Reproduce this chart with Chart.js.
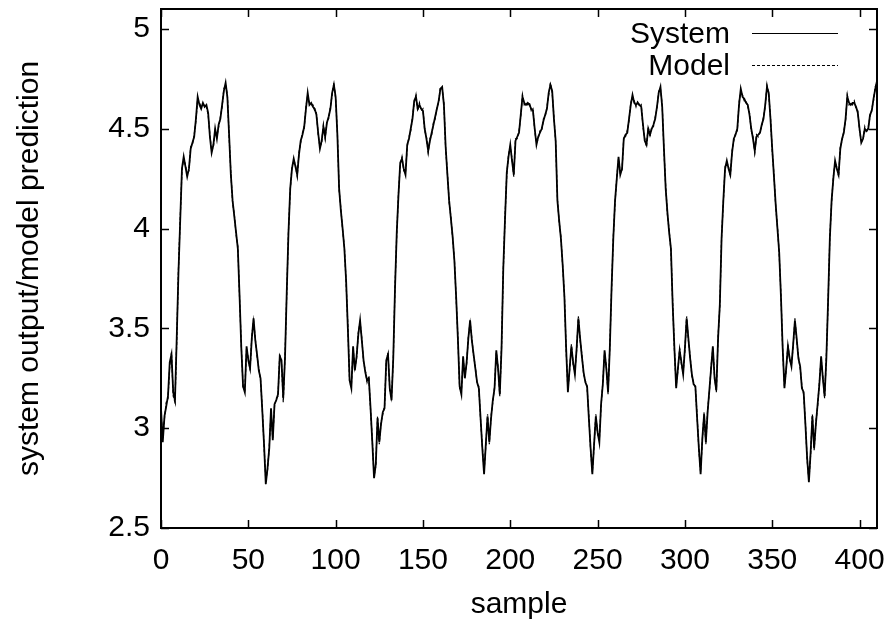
<!DOCTYPE html>
<html>
<head>
<meta charset="utf-8">
<script src="https://cdn.jsdelivr.net/npm/chart.js"></script>
<style>
  html, body { margin: 0; padding: 0; background: #fff; }
  #wrap { width: 892px; height: 630px; }
</style>
</head>
<body>
<div id="wrap"><canvas id="plot" width="892" height="630"></canvas></div>
<script>
// tick marks
const xTicks = [0, 50, 100, 150, 200, 250, 300, 350, 400];
const yTicks = [2.5, 3, 3.5, 4, 4.5, 5];

// measured system output, one value per sample (0..410)
const systemOut = [
  3.10, 2.93, 3.06, 3.11, 3.16, 3.33, 3.37, 3.18, 3.14, 3.45,
  3.78, 4.04, 4.30, 4.36, 4.31, 4.26, 4.30, 4.40, 4.43, 4.46,
  4.55, 4.66, 4.62, 4.60, 4.63, 4.61, 4.62, 4.58, 4.46, 4.38,
  4.42, 4.50, 4.45, 4.52, 4.55, 4.62, 4.69, 4.73, 4.66, 4.47,
  4.27, 4.14, 4.06, 3.98, 3.90, 3.66, 3.40, 3.21, 3.18, 3.41,
  3.34, 3.30, 3.45, 3.55, 3.44, 3.37, 3.29, 3.25, 3.09, 2.92,
  2.72, 2.80, 2.90, 3.10, 2.94, 3.12, 3.14, 3.17, 3.36, 3.34,
  3.15, 3.35, 3.68, 3.98, 4.20, 4.30, 4.35, 4.31, 4.27, 4.37,
  4.44, 4.47, 4.51, 4.60, 4.68, 4.62, 4.63, 4.61, 4.60, 4.57,
  4.48, 4.40, 4.44, 4.51, 4.46, 4.53, 4.56, 4.60, 4.68, 4.72,
  4.66, 4.47, 4.20, 4.09, 4.00, 3.90, 3.74, 3.50, 3.24, 3.20,
  3.41, 3.29, 3.36, 3.47, 3.54, 3.44, 3.34, 3.28, 3.24, 3.25,
  3.10, 2.93, 2.75, 2.82, 3.05, 2.93, 3.02, 3.08, 3.10, 3.34,
  3.37, 3.20, 3.14, 3.35, 3.70, 3.98, 4.17, 4.33, 4.35, 4.30,
  4.27, 4.42, 4.45, 4.50, 4.55, 4.64, 4.66, 4.60, 4.62, 4.60,
  4.59, 4.50, 4.45, 4.39, 4.44, 4.48, 4.52, 4.56, 4.60, 4.64,
  4.70, 4.71, 4.62, 4.41, 4.27, 4.14, 4.05, 3.96, 3.84, 3.66,
  3.45, 3.21, 3.17, 3.36, 3.25, 3.33, 3.45, 3.54, 3.44, 3.37,
  3.30, 3.23, 3.20, 3.05, 2.90, 2.77, 2.92, 3.06, 2.93, 3.05,
  3.14, 3.20, 3.39, 3.30, 3.17, 3.40, 3.80, 4.05, 4.28, 4.36,
  4.42, 4.34, 4.27, 4.44, 4.46, 4.48, 4.57, 4.66, 4.63, 4.62,
  4.63, 4.62, 4.60, 4.59, 4.50, 4.42, 4.46, 4.48, 4.50, 4.54,
  4.57, 4.60, 4.68, 4.72, 4.69, 4.55, 4.44, 4.14, 4.04, 3.95,
  3.82, 3.66, 3.40, 3.18, 3.30, 3.41, 3.33, 3.27, 3.40, 3.55,
  3.45, 3.36, 3.28, 3.23, 3.21, 3.05, 2.90, 2.77, 2.92, 3.06,
  2.98, 2.93, 3.12, 3.22, 3.39, 3.30, 3.18, 3.40, 3.70, 3.95,
  4.14, 4.25, 4.36, 4.27, 4.30, 4.45, 4.47, 4.48, 4.55, 4.62,
  4.67, 4.63, 4.62, 4.63, 4.62, 4.61, 4.52, 4.44, 4.42, 4.50,
  4.47, 4.50, 4.52, 4.55, 4.61, 4.68, 4.71, 4.61, 4.40, 4.20,
  4.08, 3.98, 3.90, 3.62, 3.40, 3.20, 3.30, 3.39, 3.33, 3.27,
  3.40, 3.55, 3.45, 3.35, 3.27, 3.22, 3.21, 3.05, 2.90, 2.77,
  2.95, 3.07, 2.93, 3.08, 3.19, 3.30, 3.41, 3.25, 3.19, 3.45,
  3.62, 3.95, 4.14, 4.30, 4.34, 4.30, 4.27, 4.38, 4.45, 4.47,
  4.50, 4.62, 4.70, 4.66, 4.65, 4.63, 4.62, 4.57, 4.50, 4.45,
  4.39, 4.46, 4.47, 4.48, 4.52, 4.55, 4.62, 4.71, 4.68, 4.55,
  4.40, 4.26, 4.12, 4.00, 3.88, 3.66, 3.40, 3.20, 3.30, 3.41,
  3.35, 3.31, 3.42, 3.54, 3.45, 3.35, 3.31, 3.20, 3.18, 3.02,
  2.85, 2.73, 2.88, 3.06, 2.90, 3.02, 3.12, 3.22, 3.36, 3.25,
  3.16, 3.35, 3.64, 3.95, 4.14, 4.25, 4.34, 4.30, 4.27, 4.40,
  4.45, 4.48, 4.55, 4.66, 4.63, 4.62, 4.63, 4.63, 4.61, 4.58,
  4.50, 4.43, 4.45, 4.50, 4.49, 4.50, 4.57, 4.59, 4.65, 4.70,
  4.74
];

// model prediction, same samples
const modelOut = [
  3.08, 2.95, 3.05, 3.13, 3.15, 3.31, 3.38, 3.16, 3.13, 3.43,
  3.80, 4.05, 4.29, 4.35, 4.32, 4.27, 4.29, 4.41, 4.42, 4.47,
  4.54, 4.65, 4.63, 4.61, 4.62, 4.62, 4.61, 4.57, 4.47, 4.39,
  4.41, 4.49, 4.46, 4.51, 4.56, 4.61, 4.70, 4.72, 4.67, 4.46,
  4.28, 4.13, 4.07, 3.97, 3.91, 3.65, 3.41, 3.20, 3.19, 3.40,
  3.35, 3.29, 3.46, 3.54, 3.45, 3.36, 3.30, 3.24, 3.10, 2.91,
  2.74, 2.79, 2.91, 3.08, 2.95, 3.11, 3.15, 3.16, 3.37, 3.33,
  3.13, 3.36, 3.67, 3.99, 4.19, 4.31, 4.34, 4.32, 4.26, 4.38,
  4.43, 4.48, 4.50, 4.61, 4.67, 4.63, 4.62, 4.62, 4.59, 4.58,
  4.47, 4.41, 4.43, 4.52, 4.45, 4.54, 4.55, 4.61, 4.67, 4.73,
  4.65, 4.48, 4.19, 4.10, 3.99, 3.91, 3.73, 3.51, 3.23, 3.21,
  3.40, 3.30, 3.35, 3.48, 3.53, 3.45, 3.33, 3.29, 3.23, 3.26,
  3.09, 2.94, 2.76, 2.81, 3.06, 2.92, 3.03, 3.07, 3.11, 3.33,
  3.38, 3.19, 3.15, 3.34, 3.71, 3.97, 4.18, 4.32, 4.36, 4.29,
  4.28, 4.41, 4.46, 4.49, 4.56, 4.63, 4.67, 4.59, 4.63, 4.59,
  4.60, 4.49, 4.46, 4.38, 4.45, 4.47, 4.53, 4.55, 4.61, 4.63,
  4.71, 4.70, 4.63, 4.40, 4.28, 4.13, 4.06, 3.95, 3.85, 3.65,
  3.46, 3.20, 3.18, 3.35, 3.26, 3.32, 3.46, 3.53, 3.45, 3.36,
  3.31, 3.22, 3.21, 3.04, 2.91, 2.78, 2.91, 3.07, 2.92, 3.06,
  3.13, 3.21, 3.38, 3.31, 3.16, 3.41, 3.79, 4.06, 4.27, 4.37,
  4.41, 4.35, 4.26, 4.45, 4.45, 4.49, 4.56, 4.67, 4.62, 4.63,
  4.62, 4.63, 4.59, 4.60, 4.49, 4.43, 4.45, 4.49, 4.49, 4.55,
  4.56, 4.61, 4.67, 4.73, 4.68, 4.56, 4.43, 4.15, 4.03, 3.96,
  3.81, 3.67, 3.39, 3.19, 3.29, 3.42, 3.32, 3.28, 3.39, 3.56,
  3.44, 3.37, 3.27, 3.24, 3.20, 3.06, 2.89, 2.78, 2.91, 3.07,
  2.97, 2.94, 3.11, 3.23, 3.38, 3.31, 3.17, 3.41, 3.69, 3.96,
  4.13, 4.26, 4.35, 4.28, 4.29, 4.46, 4.46, 4.49, 4.54, 4.63,
  4.66, 4.64, 4.61, 4.64, 4.61, 4.62, 4.51, 4.45, 4.41, 4.51,
  4.46, 4.51, 4.51, 4.56, 4.60, 4.69, 4.70, 4.62, 4.39, 4.21,
  4.07, 3.99, 3.89, 3.63, 3.39, 3.21, 3.29, 3.40, 3.32, 3.28,
  3.39, 3.56, 3.44, 3.36, 3.26, 3.23, 3.20, 3.06, 2.89, 2.78,
  2.94, 3.08, 2.92, 3.09, 3.18, 3.31, 3.40, 3.26, 3.18, 3.46,
  3.61, 3.96, 4.13, 4.31, 4.33, 4.31, 4.26, 4.39, 4.44, 4.48,
  4.49, 4.63, 4.69, 4.67, 4.64, 4.64, 4.61, 4.58, 4.49, 4.46,
  4.38, 4.47, 4.46, 4.49, 4.51, 4.56, 4.61, 4.72, 4.67, 4.56,
  4.39, 4.27, 4.11, 4.01, 3.87, 3.67, 3.39, 3.21, 3.29, 3.42,
  3.34, 3.32, 3.41, 3.55, 3.44, 3.36, 3.30, 3.21, 3.17, 3.03,
  2.84, 2.74, 2.87, 3.07, 2.89, 3.03, 3.11, 3.23, 3.35, 3.26,
  3.15, 3.36, 3.63, 3.96, 4.13, 4.26, 4.33, 4.31, 4.26, 4.41,
  4.44, 4.49, 4.54, 4.67, 4.62, 4.63, 4.62, 4.64, 4.60, 4.59,
  4.49, 4.44, 4.44, 4.51, 4.48, 4.51, 4.56, 4.60, 4.64, 4.71,
  4.73
];

const FONT = "'Liberation Sans', Arial, sans-serif";
const FONT_SIZE = 30;

function toPoints(values) {
  return values.map((v, i) => ({ x: i, y: v }));
}

// gnuplot-like frame: inward ticks on all four sides, box, key in the corner
const gnuplotFrame = {
  id: "gnuplotFrame",
  afterDraw(chart) {
    const ctx = chart.ctx;
    const a = chart.chartArea;
    const xs = chart.scales.x;
    const ys = chart.scales.y;
    ctx.save();
    ctx.strokeStyle = "#000";
    ctx.lineWidth = 1.5;
    ctx.beginPath();
    xs.ticks.forEach(t => {
      const px = Math.round(xs.getPixelForValue(t.value)) + 0.5;
      ctx.moveTo(px, a.bottom); ctx.lineTo(px, a.bottom - 8);
      ctx.moveTo(px, a.top); ctx.lineTo(px, a.top + 8);
    });
    ys.ticks.forEach(t => {
      const py = Math.round(ys.getPixelForValue(t.value)) + 0.5;
      ctx.moveTo(a.left, py); ctx.lineTo(a.left + 8, py);
      ctx.moveTo(a.right, py); ctx.lineTo(a.right - 8, py);
    });
    ctx.stroke();

    ctx.lineWidth = 2;
    ctx.strokeRect(a.left, a.top, a.right - a.left, a.bottom - a.top);

    // key
    ctx.font = FONT_SIZE + "px " + FONT;
    ctx.fillStyle = "#000";
    ctx.textAlign = "right";
    ctx.textBaseline = "middle";
    chart.data.datasets.forEach((ds, i) => {
      const ky = 33.5 + i * 32;
      ctx.fillText(ds.label, 730, ky + 1);
      ctx.lineWidth = 1;
      ctx.setLineDash(ds.borderDash || []);
      ctx.beginPath();
      ctx.moveTo(752, ky);
      ctx.lineTo(838, ky);
      ctx.stroke();
    });
    ctx.restore();
  }
};

new Chart(document.getElementById("plot"), {
  type: "line",
  data: {
    datasets: [
      {
        label: "System",
        data: toPoints(systemOut),
        borderColor: "#000",
        borderWidth: 1.8,
        pointRadius: 0,
        tension: 0
      },
      {
        label: "Model",
        data: toPoints(modelOut),
        borderColor: "#000",
        borderWidth: 1.2,
        borderDash: [3, 2],
        pointRadius: 0,
        tension: 0
      }
    ]
  },
  options: {
    responsive: false,
    animation: false,
    events: [],
    layout: { padding: { left: 0, top: 9, right: 15, bottom: 0 } },
    plugins: { legend: { display: false }, tooltip: { enabled: false } },
    scales: {
      x: {
        type: "linear",
        min: 0,
        max: 410,
        afterBuildTicks: s => { s.ticks = xTicks.map(v => ({ value: v })); },
        afterFit: s => { s.height = 102; s.paddingLeft = 0; s.paddingRight = 0; },
        grid: { display: false, drawTicks: false },
        border: { display: false },
        ticks: {
          color: "#000",
          padding: 15,
          maxRotation: 0,
          font: { family: FONT, size: FONT_SIZE },
          callback: v => String(v)
        },
        title: {
          display: true,
          text: "sample",
          color: "#000",
          font: { family: FONT, size: FONT_SIZE },
          padding: { top: 0, bottom: 7 }
        }
      },
      y: {
        type: "linear",
        min: 2.5,
        max: 5.1,
        afterBuildTicks: s => { s.ticks = yTicks.map(v => ({ value: v })); },
        afterFit: s => { s.width = 161; s.paddingTop = 0; s.paddingBottom = 0; },
        grid: { display: false, drawTicks: false },
        border: { display: false },
        ticks: {
          color: "#000",
          padding: 11,
          font: { family: FONT, size: FONT_SIZE },
          callback: v => String(v)
        },
        title: {
          display: true,
          text: "system output/model prediction",
          color: "#000",
          font: { family: FONT, size: FONT_SIZE },
          padding: { top: 12, bottom: 0 }
        }
      }
    }
  },
  plugins: [gnuplotFrame]
});
</script>
</body>
</html>
